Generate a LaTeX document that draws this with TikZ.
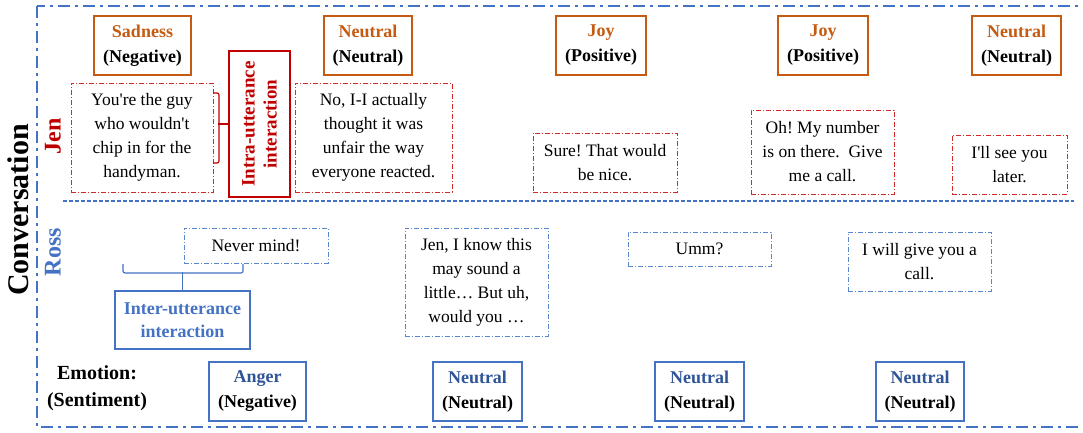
\documentclass[tikz,border=0pt]{standalone}
\usepackage{fontspec}
\setmainfont{Liberation Serif}
\definecolor{orng}{HTML}{C55A11}
\definecolor{dred}{HTML}{C00000}
\definecolor{ured}{HTML}{D02A2A}
\definecolor{blu}{HTML}{4472C4}
\definecolor{dblu}{HTML}{2F5597}
\definecolor{ublu}{HTML}{5B87D0}
\frenchspacing
\begin{document}
\begin{tikzpicture}[x=1pt,y=-1pt,
  emo/.style={draw=orng, line width=1.5pt, inner sep=0pt, align=center, font=\fontsize{18}{25}\selectfont\bfseries},
  bemo/.style={draw=blu, line width=1.5pt, inner sep=0pt, align=center, font=\fontsize{18}{25}\selectfont\bfseries},
  jutt/.style={draw=ured, line width=0.9pt, dash pattern=on 5pt off 2pt on 1pt off 2pt, inner sep=0pt, align=center, font=\fontsize{17.5}{24}\selectfont},
  rutt/.style={jutt, draw=ublu},
  spk/.style={font=\fontsize{24}{24}\selectfont\bfseries, rotate=90, inner sep=0pt},
  frame/.style={draw=blu, line width=2.5pt, dash pattern=on 12pt off 5pt on 3pt off 5pt},
  sepline/.style={draw=blu, line width=1.3pt, dash pattern=on 4pt off 2pt},
  bracered/.style={draw=dred, line width=1.2pt, rounded corners=2pt},
  braceblu/.style={draw=blu, line width=1.2pt, rounded corners=2pt}
]
\useasboundingbox (0,0) rectangle (1083,433);
\draw[frame] (37,6) rectangle (1095,427);
\coordinate (sepL) at (63,201);
\coordinate (sepR) at (1074,201);
\draw[sepline] (sepL) -- (sepR);

% side labels
\node[spk, font=\fontsize{30}{30}\selectfont\bfseries] (conv) at (18,210) {Conversation};
\node[spk, text=dred] (jen) at (53,136) {Jen};
\node[spk, text=blu] (ross) at (53,252) {Ross};

% top emotion boxes
\node[emo, minimum width=97pt, minimum height=59pt] (e1) at (142.5,45.5) {\textcolor{orng}{Sadness}\\(Negative)};
\node[emo, minimum width=88pt, minimum height=59pt] (e2) at (368,45.5) {\textcolor{orng}{Neutral}\\(Neutral)};
\node[emo, minimum width=90pt, minimum height=59pt] (e3) at (601,45.5) {\textcolor{orng}{Joy}\\(Positive)};
\node[emo, minimum width=90pt, minimum height=59pt] (e4) at (823,45.5) {\textcolor{orng}{Joy}\\(Positive)};
\node[emo, minimum width=89pt, minimum height=59pt] (e5) at (1016.5,45.5) {\textcolor{orng}{Neutral}\\(Neutral)};

% Jen utterances
\node[jutt, minimum width=142pt, minimum height=109pt] (u1) at (142,137.5) {You\textquotesingle re the guy\\who wouldn\textquotesingle t\\chip in for the\\handyman.};
\node[jutt, minimum width=157pt, minimum height=109pt] (u2) at (373.5,137.5) {No, I-I actually\\thought it was\\unfair the way\\everyone reacted.};
\node[jutt, minimum width=144pt, minimum height=59pt] (u3) at (605,162.5) {Sure! That would\\be nice.};
\node[jutt, minimum width=143pt, minimum height=84pt] (u4) at (822.5,152) {Oh! My number\\is on there.\ \ Give\\me a call.};
\node[jutt, minimum width=115pt, minimum height=59pt] (u5) at (1009.5,164.5) {I\textquotesingle ll see you\\later.};

% intra-utterance box
\node[draw=dred, line width=1.5pt, rotate=90, minimum width=146pt, minimum height=61pt, inner sep=0pt, align=center, text=dred, font=\fontsize{19}{22}\selectfont\bfseries] (intra) at (259.5,124) {Intra-utterance\\interaction};
\coordinate (abt) at (213,93);
\coordinate (abb) at (213,163);
\draw[bracered] (abt) -- ++(6,0) |- (abb);
\draw[bracered] (intra.north) -- ++(-10,0);

% Ross utterances
\node[rutt, minimum width=144pt, minimum height=35pt] (r1) at (256,245.5) {Never mind!};
\node[rutt, minimum width=143pt, minimum height=108pt] (r2) at (476.5,282) {Jen, I know this\\may sound a\\little… But uh,\\would you …};
\node[rutt, minimum width=143pt, minimum height=34pt] (r3) at (699.5,249) {Umm?};
\node[rutt, minimum width=143pt, minimum height=59pt] (r4) at (919.5,261.5) {I will give you a\\call.};

% inter-utterance box
\node[draw=blu, line width=1.5pt, minimum width=135pt, minimum height=58pt, inner sep=0pt, align=center, text=blu, font=\fontsize{18}{23}\selectfont\bfseries] (inter) at (182.5,320) {Inter-utterance\\interaction};
\coordinate (ibl) at (123,264);
\coordinate (ibr) at (243,264);
\draw[braceblu] (ibl) -- ++(0,9) -| (ibr);
\draw[braceblu] (inter.north) -- ++(0,-18);

% bottom label
\node[align=center, inner sep=0pt, font=\fontsize{20}{27}\selectfont\bfseries] (emolab) at (97,388) {Emotion:\\(Sentiment)};

% bottom emotion boxes
\node[bemo, minimum width=97pt, minimum height=59pt] (b1) at (257.5,391.5) {\textcolor{dblu}{Anger}\\(Negative)};
\node[bemo, minimum width=89pt, minimum height=59pt] (b2) at (477.5,391.5) {\textcolor{dblu}{Neutral}\\(Neutral)};
\node[bemo, minimum width=89pt, minimum height=59pt] (b3) at (699.5,391.5) {\textcolor{dblu}{Neutral}\\(Neutral)};
\node[bemo, minimum width=88pt, minimum height=59pt] (b4) at (920,391.5) {\textcolor{dblu}{Neutral}\\(Neutral)};
\end{tikzpicture}
\end{document}
